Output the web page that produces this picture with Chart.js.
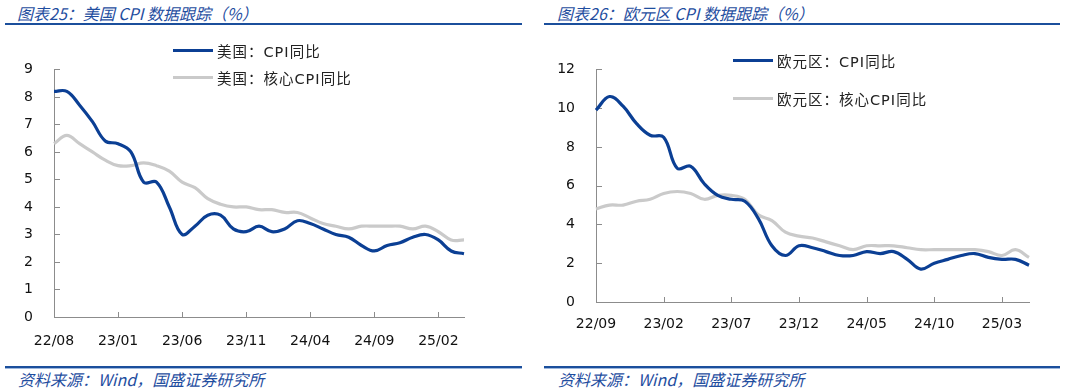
<!DOCTYPE html>
<html>
<head>
<meta charset="utf-8">
<script src="https://cdn.jsdelivr.net/npm/chart.js@4.4.1/dist/chart.umd.min.js"></script>
<style>
  html, body { margin: 0; padding: 0; background: #fff; }
  body { width: 1065px; height: 392px; position: relative; overflow: hidden; }
  .title, .source { position: absolute; font-family: "Noto Sans CJK SC", sans-serif; font-style: italic; color: #1f4e9f; white-space: nowrap; }
  .title { font-size: 16px; line-height: 20px; top: 3px; }
  .source { font-size: 16px; line-height: 20px; top: 369px; }
  .rule { position: absolute; height: 2px; background: #1b4f9c; }
  .rule2 { position: absolute; height: 1px; background: #9db7dd; }
  canvas { position: absolute; }
  .legend { position: absolute; font-family: "DejaVu Sans", "Noto Sans CJK SC", sans-serif; font-size: 14.5px; letter-spacing: 1px; color: #222; }
  .legend .item { position: absolute; white-space: nowrap; display: flex; align-items: center; height: 18px; }
  .legend .swatch { display: inline-block; width: 40px; height: 3px; margin-right: 4px; }
</style>
</head>
<body>
<div class="title" style="left:17px">图表25：美国 CPI 数据跟踪（%）</div>
<div class="title" style="left:557px">图表26：欧元区 CPI 数据跟踪（%）</div>
<div class="rule" style="left:5px; width:517px; top:23px"></div>
<div class="rule" style="left:544px; width:516px; top:23px"></div>
<div class="rule" style="left:5px; width:517px; top:366px"></div>
<div class="rule2" style="left:5px; width:517px; top:368px"></div>
<div class="rule" style="left:544px; width:516px; top:366px"></div>
<div class="rule2" style="left:544px; width:516px; top:368px"></div>
<div class="source" style="left:18px">资料来源：Wind，国盛证券研究所</div>
<div class="source" style="left:558px">资料来源：Wind，国盛证券研究所</div>

<canvas id="us" width="520" height="320" style="left:0px; top:40px"></canvas>
<canvas id="ez" width="525" height="320" style="left:540px; top:40px"></canvas>
<div class="legend" id="usLegend"></div>
<div class="legend" id="ezLegend"></div>

<script>
// ---- Data ----
const usMonths = ['22/08','22/09','22/10','22/11','22/12','23/01','23/02','23/03','23/04','23/05','23/06','23/07','23/08','23/09','23/10','23/11','23/12','24/01','24/02','24/03','24/04','24/05','24/06','24/07','24/08','24/09','24/10','24/11','24/12','25/01','25/02','25/03','25/04'];
const usCPI  = [8.2,8.2,7.7,7.1,6.4,6.3,6.0,4.9,4.9,4.0,3.0,3.3,3.7,3.7,3.2,3.1,3.3,3.1,3.2,3.5,3.4,3.2,3.0,2.9,2.6,2.4,2.6,2.7,2.9,3.0,2.8,2.4,2.3];
const usCore = [6.3,6.6,6.3,6.0,5.7,5.5,5.5,5.6,5.5,5.3,4.9,4.7,4.3,4.1,4.0,4.0,3.9,3.9,3.8,3.8,3.6,3.4,3.3,3.2,3.3,3.3,3.3,3.3,3.2,3.3,3.1,2.8,2.8];
const usTickLabels = ['22/08','23/01','23/06','23/11','24/04','24/09','25/02'];

const ezMonths = ['22/09','22/10','22/11','22/12','23/01','23/02','23/03','23/04','23/05','23/06','23/07','23/08','23/09','23/10','23/11','23/12','24/01','24/02','24/03','24/04','24/05','24/06','24/07','24/08','24/09','24/10','24/11','24/12','25/01','25/02','25/03','25/04','25/05'];
const ezCPI  = [9.9,10.6,10.1,9.2,8.6,8.5,6.9,7.0,6.1,5.5,5.3,5.2,4.3,2.9,2.4,2.9,2.8,2.6,2.4,2.4,2.6,2.5,2.6,2.2,1.7,2.0,2.2,2.4,2.5,2.3,2.2,2.2,1.9];
const ezCore = [4.8,5.0,5.0,5.2,5.3,5.6,5.7,5.6,5.3,5.5,5.5,5.3,4.5,4.2,3.6,3.4,3.3,3.1,2.9,2.7,2.9,2.9,2.9,2.8,2.7,2.7,2.7,2.7,2.7,2.6,2.4,2.7,2.3];
const ezTickLabels = ['22/09','23/02','23/07','23/12','24/05','24/10','25/03'];

const usLabels = ['美国：CPI同比', '美国：核心CPI同比'];
const ezLabels = ['欧元区：CPI同比', '欧元区：核心CPI同比'];

// ---- Styles ----
const BLUE = '#0b3f94';
const GRAY = '#cacaca';
const AXIS = '#8c8c8c';
const TICKFONT = { family: 'DejaVu Sans', size: 14 };

const innerTicks = {
  id: 'innerTicks',
  beforeDatasetsDraw(chart) {
    const { ctx, chartArea, scales: { x, y } } = chart;
    ctx.save();
    ctx.strokeStyle = AXIS;
    ctx.lineWidth = 1;
    ctx.beginPath();
    y.ticks.forEach((t, i) => {
      const py = Math.round(y.getPixelForTick(i)) + 0.5;
      ctx.moveTo(chartArea.left, py); ctx.lineTo(chartArea.left + 6, py);
    });
    x.ticks.forEach((t, i) => {
      const px = Math.round(x.getPixelForTick(i)) + 0.5;
      ctx.moveTo(px, chartArea.bottom); ctx.lineTo(px, chartArea.bottom - 5);
    });
    ctx.stroke();
    ctx.restore();
  }
};

function makeChart(id, months, s1, s2, labels, tickLabels, yMax, yStep, geom) {
  const chart = new Chart(document.getElementById(id), {
    type: 'line',
    data: {
      labels: months,
      datasets: [
        { label: labels[0], data: s1, borderColor: BLUE, borderWidth: 3.2, pointRadius: 0, tension: 0.4, clip: false, order: 1 },
        { label: labels[1], data: s2, borderColor: GRAY, borderWidth: 3.2, pointRadius: 0, tension: 0.4, clip: false, order: 2 }
      ]
    },
    options: {
      responsive: false,
      animation: false,
      devicePixelRatio: 1,
      layout: { padding: { left: 0, right: geom.right, top: geom.top, bottom: 0 } },
      plugins: { legend: { display: false }, tooltip: { enabled: false } },
      scales: {
        x: {
          type: 'category',
          offset: false,
          afterBuildTicks: (s) => { s.ticks = s.ticks.filter(t => tickLabels.includes(months[t.value])); },
          afterFit: (s) => { s.height = geom.xh; },
          grid: { display: true, drawOnChartArea: false, drawTicks: false },
          border: { color: AXIS, width: 1 },
          ticks: { autoSkip: false, maxRotation: 0, padding: geom.xpad, color: '#111', font: TICKFONT }
        },
        y: {
          min: 0, max: yMax,
          afterFit: (s) => { s.width = geom.yw; },
          grid: { display: true, drawOnChartArea: false, drawTicks: false },
          border: { color: AXIS, width: 1 },
          ticks: { stepSize: yStep, padding: 21, color: '#111', font: TICKFONT }
        }
      }
    },
    plugins: [innerTicks]
  });
  return chart;
}

const us = makeChart('us', usMonths, usCPI, usCore, usLabels, usTickLabels, 9, 1, { right: 56, top: 17, xh: 43, yw: 54, xpad: 16 });
const ez = makeChart('ez', ezMonths, ezCPI, ezCore, ezLabels, ezTickLabels, 12, 2, { right: 36, top: 24, xh: 58, yw: 56, xpad: 14 });

function buildLegend(chart, elId, left, tops) {
  const el = document.getElementById(elId);
  chart.data.datasets.forEach((ds, i) => {
    const item = document.createElement('div');
    item.className = 'item';
    item.style.left = left + 'px';
    item.style.top = (tops[i] - 9) + 'px';
    const sw = document.createElement('span');
    sw.className = 'swatch';
    sw.style.background = ds.borderColor;
    const tx = document.createElement('span');
    tx.textContent = ds.label;
    item.appendChild(sw); item.appendChild(tx);
    el.appendChild(item);
  });
}
buildLegend(us, 'usLegend', 173, [50, 77]);
buildLegend(ez, 'ezLegend', 733, [60, 98]);
</script>
</body>
</html>
